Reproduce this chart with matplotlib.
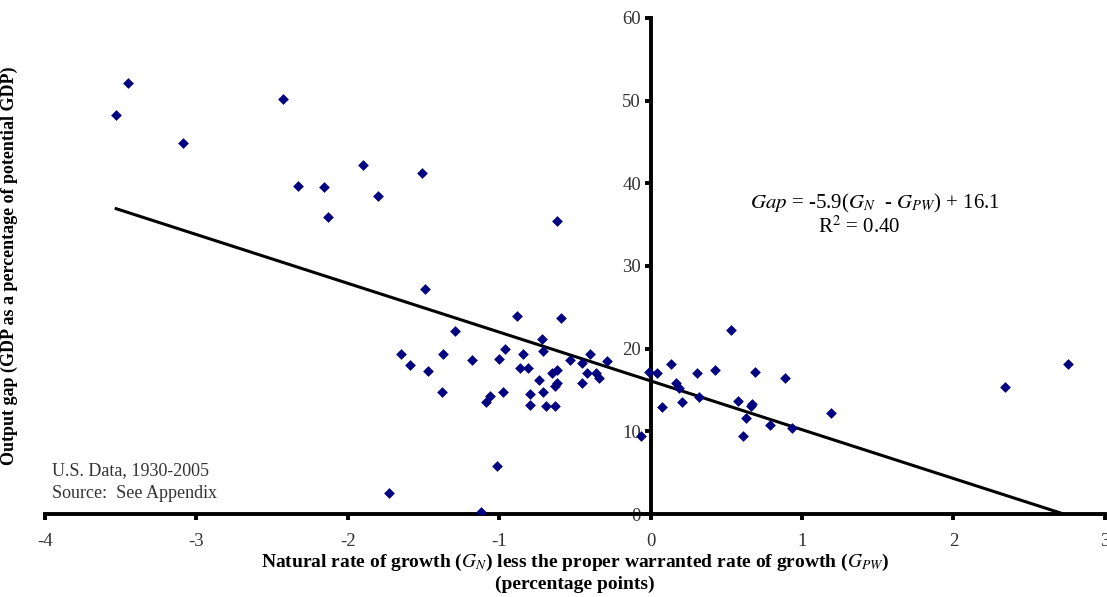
import matplotlib
matplotlib.use("Agg")
import matplotlib.pyplot as plt
import numpy as np

plt.rcParams["font.family"] = ["Liberation Serif", "DejaVu Serif"]
plt.rcParams["mathtext.fontset"] = "stix"
plt.rcParams["axes.unicode_minus"] = False

# gap between natural and proper warranted growth rates (percentage points)
gap_growth = [
    -3.53, -3.45, -3.09, -2.43, -2.33, -2.16, -2.13, -1.90, -1.80, -1.51, -1.49, -0.62,
    -0.88, -0.59, -1.29, -0.715, -1.65, -1.37, -0.96, -0.84, -0.71, -0.40,
    -1.59, -1.47, -1.18, -1.00, -0.535, -0.45, -0.29, -0.86, -0.81, -0.62,
    -0.65, -0.42, -0.36, -0.34, -0.74, -0.62, -0.63, -0.45, -1.38, -0.975,
    -0.795, -0.71, -1.06, -1.09, -0.80, -0.69, -0.63, -0.066, -1.015, -1.73, -1.12,
    -0.01, 0.04, 0.137, 0.077, 0.17, 0.19, 0.207, 0.306, 0.32, 0.427, 0.533,
    0.577, 0.663, 0.67, 0.69, 0.632, 0.61, 0.786, 0.887, 0.936, 1.19, 2.34, 2.76,
]
# output gap, % of potential GDP
output_gap = [
    48.2, 52.1, 44.9, 50.2, 39.7, 39.5, 35.9, 42.2, 38.5, 41.2, 27.2, 35.4,
    23.9, 23.7, 22.1, 21.2, 19.4, 19.3, 20.0, 19.4, 19.7, 19.4,
    18.0, 17.3, 18.6, 18.8, 18.6, 18.3, 18.5, 17.65, 17.65, 17.4,
    17.0, 17.0, 17.0, 16.4, 16.2, 15.8, 15.5, 15.8, 14.7, 14.7,
    14.5, 14.7, 14.3, 13.6, 13.2, 13.1, 13.1, 9.4, 5.8, 2.6, 0.3,
    17.2, 17.1, 18.2, 13.0, 15.8, 15.3, 13.5, 17.0, 14.1, 17.4, 22.2,
    13.7, 13.1, 13.3, 17.2, 11.6, 9.4, 10.8, 16.4, 10.4, 12.2, 15.4, 18.1,
]
slope, intercept = -5.9, 16.1

fig = plt.figure(figsize=(11.07, 5.97), dpi=100)
ax = fig.add_axes([0.0407, 0.139, 0.9573, 0.831])

ax.scatter(gap_growth, output_gap, marker="D", s=30, color="#000080",
           linewidths=0, zorder=3)
x_fit = np.array([min(gap_growth), -intercept / slope])
ax.plot(x_fit, slope * x_fit + intercept, color="black", lw=2.2, zorder=2)

ax.set_xlim(-4, 3)
ax.set_ylim(0, 60)
ax.set_xticks(range(-4, 4))
ax.set_yticks(range(0, 61, 10))

for s in ("top", "right"):
    ax.spines[s].set_visible(False)
ax.spines["left"].set_position(("data", 0))
ax.spines["bottom"].set_position(("data", 0))
ax.spines["left"].set_linewidth(2.8)
ax.spines["bottom"].set_linewidth(2.8)
ax.tick_params(axis="both", direction="out", length=4, width=2.8,
               labelsize=13.5, labelcolor="#333333")
ax.tick_params(axis="x", pad=10)
ax.tick_params(axis="y", pad=3)

ax.set_xlabel("Natural rate of growth ($G_N$) less the proper warranted rate of growth "
              "($G_{PW}$)\n(percentage points)",
              fontsize=14, fontweight="bold", labelpad=1, linespacing=1.2)
ax.set_ylabel("Output gap (GDP as a percentage of potential GDP)",
              fontsize=13, fontweight="bold")
ax.yaxis.set_label_coords(-0.026, 0.5)

ax.text(1.48, 37.6, r"$Gap$ = -5.9($G_N$  - $G_{PW}$) + 16.1",
        fontsize=15, ha="center", va="center")
ax.text(1.38, 34.7, r"R$^2$ = 0.40", fontsize=15, ha="center", va="center")

ax.text(0.0066, 0.087, "U.S. Data, 1930-2005", transform=ax.transAxes,
        fontsize=13, color="#333333", ha="left", va="center")
ax.text(0.0066, 0.042, "Source:  See Appendix", transform=ax.transAxes,
        fontsize=13, color="#333333", ha="left", va="center")

fig.savefig("out.png", dpi=100)
